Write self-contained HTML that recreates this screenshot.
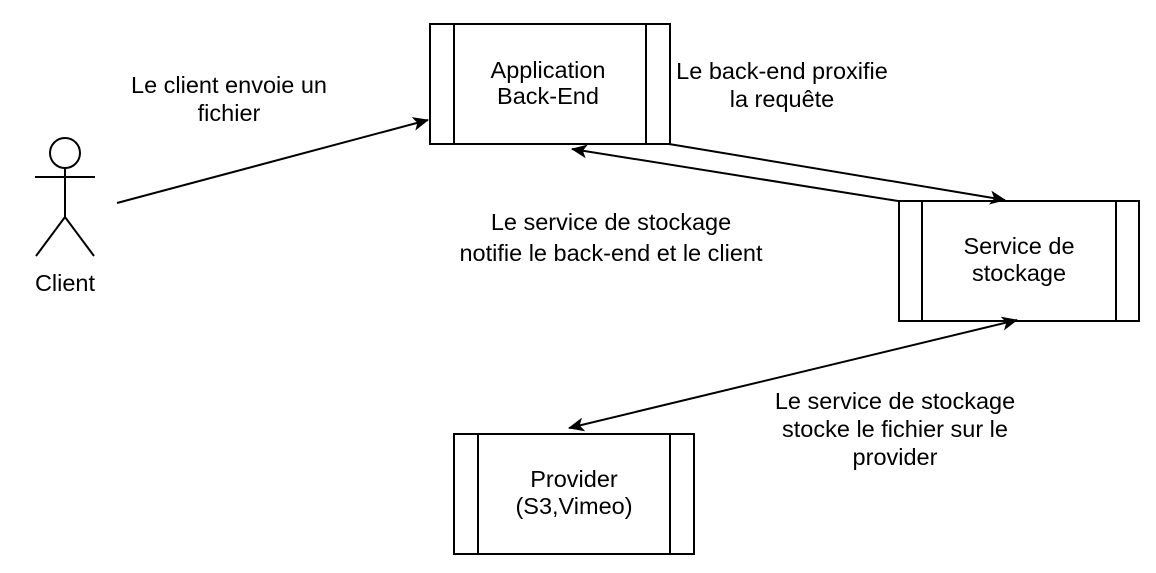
<!DOCTYPE html>
<html><head><style>
html,body{margin:0;padding:0;background:#fff;}
svg text{font-family:"Liberation Sans",Helvetica,Arial,sans-serif;font-size:23.5px;fill:#000;}
</style></head><body>
<svg width="1156" height="568" xmlns="http://www.w3.org/2000/svg">
<defs>
<marker id="a" viewBox="0 0 16 14" refX="15" refY="7" markerWidth="16" markerHeight="14" markerUnits="userSpaceOnUse" orient="auto-start-reverse">
<path d="M0,0 L16,7 L0,14 L4,7 Z" fill="#000"/>
</marker>
</defs>
<g stroke="#000" stroke-width="2" fill="none">
<rect x="430" y="24" width="240" height="120"/>
<line x1="454" y1="24" x2="454" y2="144"/><line x1="646" y1="24" x2="646" y2="144"/>
<rect x="899" y="201" width="240" height="120"/>
<line x1="922" y1="201" x2="922" y2="321"/><line x1="1116" y1="201" x2="1116" y2="321"/>
<rect x="454" y="434" width="240" height="120"/>
<line x1="478" y1="434" x2="478" y2="554"/><line x1="670" y1="434" x2="670" y2="554"/>
<circle cx="65" cy="153" r="15"/>
<line x1="65" y1="168" x2="65" y2="217"/>
<line x1="35" y1="177" x2="95" y2="177"/>
<line x1="65" y1="217" x2="36" y2="256"/><line x1="65" y1="217" x2="94" y2="256"/>
<line x1="117" y1="203" x2="428" y2="120" marker-end="url(#a)"/>
<line x1="669" y1="144" x2="1005" y2="200" marker-end="url(#a)"/>
<line x1="898" y1="201" x2="572" y2="149" marker-end="url(#a)"/>
<line x1="1017" y1="320" x2="569" y2="428" marker-start="url(#a)" marker-end="url(#a)"/>
</g>
<g text-anchor="middle">
<text x="65" y="291">Client</text>
<text x="548" y="78">Application</text>
<text x="548" y="104">Back-End</text>
<text x="1019" y="254">Service de</text>
<text x="1019" y="281">stockage</text>
<text x="574" y="487">Provider</text>
<text x="574" y="514">(S3,Vimeo)</text>
<text x="229" y="93">Le client envoie un</text>
<text x="229" y="121">fichier</text>
<text x="782" y="79">Le back-end proxifie</text>
<text x="782" y="107">la requête</text>
<text x="611" y="230">Le service de stockage</text>
<text x="611" y="261">notifie le back-end et le client</text>
<text x="895" y="409">Le service de stockage</text>
<text x="895" y="437">stocke le fichier sur le</text>
<text x="895" y="465">provider</text>
</g>
</svg>
</body></html>
